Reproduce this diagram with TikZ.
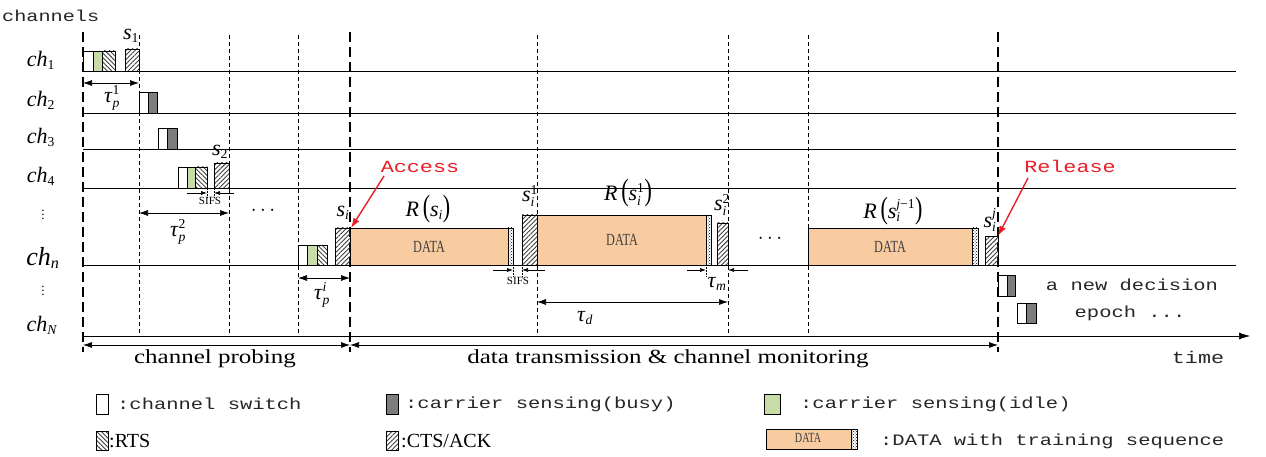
\documentclass[tikz,border=0pt]{standalone}
\usepackage{fontspec}
\setmainfont{Liberation Serif}
\newfontfamily\mono[FakeStretch=1.28]{Liberation Mono}
\newfontfamily\wideserif[FakeStretch=1.25]{Liberation Serif}
\newfontfamily\narrowserif[FakeStretch=0.72]{Liberation Serif}
\usetikzlibrary{arrows.meta,patterns,patterns.meta}
\definecolor{peach}{RGB}{248,203,160}
\definecolor{idlecol}{RGB}{200,220,168}
\definecolor{busycol}{RGB}{125,125,125}
\definecolor{accred}{RGB}{232,30,40}
\newcommand\fsz[1]{\fontsize{#1}{#1}\selectfont}
\newcommand\SB[2]{$\hbox{#1}_{\hbox{\scalebox{0.62}{#2}}}$}
\newcommand\SP[3]{$\hbox{#1}^{\hbox{\scalebox{0.62}{#3}}}_{\hbox{\scalebox{0.62}{#2}}}$}
\newcommand\Rp[1]{\textit{R}\,\scalebox{1}[1.4]{(}#1\scalebox{1}[1.4]{)}}
\begin{document}
\begin{tikzpicture}[x=1pt,y=-1pt,
  chline/.style={line width=0.7pt},
  tdash/.style={line width=0.7pt, dash pattern=on 4pt off 3pt},
  bdash/.style={line width=1.8pt, dash pattern=on 10pt off 5pt},
  blk/.style={draw, line width=0.7pt},
  swb/.style={blk, fill=white},
  busyb/.style={blk, fill=busycol},
  idleb/.style={blk, fill=idlecol},
  rtsb/.style={blk, pattern={Lines[angle=-45,distance=3.2pt,line width=0.9pt]}, pattern color=black!75},
  ctsb/.style={blk, pattern={Lines[angle=45,distance=3.2pt,line width=0.9pt]}, pattern color=black!75},
  datab/.style={blk, fill=peach},
  trainb/.style={blk, pattern=crosshatch dots, pattern color=black},
  dimarr/.style={{Latex[length=9pt,width=6pt]}-{Latex[length=9pt,width=6pt]}, line width=0.7pt},
  sdim/.style={-{Latex[length=6pt,width=4pt]}, line width=0.6pt},
  tick/.style={line width=0.5pt, densely dotted},
  lbl/.style={inner sep=0pt, font=\fsz{22}},
  vdt/.style={inner sep=0pt, font=\fsz{13}},
  mtxt/.style={inner sep=0pt, font=\mono\fsz{16}, text=black!85},
  btxt/.style={inner sep=0pt, font=\wideserif\fsz{20}},
  dtxt/.style={inner sep=0pt, font=\narrowserif\fsz{17}, text=black!75},
  stxt/.style={inner sep=0pt, font=\fsz{11}},
  redarr/.style={accred, line width=1.4pt, -{Latex[length=10pt,width=7pt]}},
  redtxt/.style={inner sep=0pt, font=\mono\fsz{17}, text=accred}
]
\useasboundingbox (0,0) rectangle (1266,457);

% vertical thin dashed lines
\foreach \x in {139,229,298,537,728,808} \draw[tdash] (\x,35) -- (\x,336);

% channel lines
\foreach \y in {71,113,149,188,265} \draw[chline] (83,\y) -- (1236,\y);

% time axis
\coordinate (ax0) at (83,336);
\coordinate (ax1) at (1250,336);
\draw[chline,-{Latex[length=11pt,width=7pt]}] (ax0) -- (ax1);

% big dashed lines
\draw[bdash] (83,32) -- (83,352);
\draw[bdash] (350,32) -- (350,352);
\draw[bdash] (998,32) -- (998,352);

% channel labels
\node[mtxt, anchor=west] (lch) at (2,16) {\resizebox{97pt}{!}{\mono\fsz{16}channels}};
\node[lbl] (c1) at (41,60) {\SB{\textit{ch}}{1}};
\node[lbl] (c2) at (41,100) {\SB{\textit{ch}}{2}};
\node[lbl] (c3) at (41,137) {\SB{\textit{ch}}{3}};
\node[lbl] (c4) at (41,176) {\SB{\textit{ch}}{4}};
\node[vdt] (cv1) at (43,212) {$\vdots$};
\node[lbl, font=\fsz{26}] (cn) at (43,258) {\SB{\textit{ch}}{\textit{n}}};
\node[vdt] (cv2) at (43,288) {$\vdots$};
\node[lbl] (cN) at (42,325) {\SB{\textit{ch}}{\textit{N}}};

% ch1
\draw[swb] (83,51) rectangle (93,71);
\draw[idleb] (93,51) rectangle (102,71);
\draw[rtsb] (102,51) rectangle (115,71);
\draw[ctsb] (125,49) rectangle (139,71);
% ch2
\draw[swb] (139,92) rectangle (148,113);
\draw[busyb] (148,92) rectangle (157,113);
% ch3
\draw[swb] (158,128) rectangle (167,149);
\draw[busyb] (167,128) rectangle (177,149);
% ch4
\draw[swb] (178,167) rectangle (187,188);
\draw[idleb] (187,167) rectangle (195,188);
\draw[rtsb] (195,167) rectangle (207,188);
\draw[ctsb] (214,163) rectangle (229,188);
% chn probing
\draw[swb] (298,245) rectangle (307,265);
\draw[idleb] (307,245) rectangle (317,265);
\draw[rtsb] (317,245) rectangle (327,265);
\draw[ctsb] (335,228) rectangle (350,265);
% data transmission
\draw[datab] (350,228) rectangle (508,265);
\draw[trainb] (508,228) rectangle (513,265);
\draw[ctsb] (522,215) rectangle (537,265);
\draw[datab] (537,215) rectangle (706,265);
\draw[trainb] (706,215) rectangle (711,265);
\draw[ctsb] (717,223) rectangle (728,265);
\draw[datab] (808,228) rectangle (972,265);
\draw[trainb] (972,228) rectangle (978,265);
\draw[ctsb] (985,236) rectangle (998,265);
% new epoch
\draw[swb] (998,275) rectangle (1007,296);
\draw[busyb] (1007,275) rectangle (1015,296);
\draw[swb] (1017,303) rectangle (1026,323);
\draw[busyb] (1026,303) rectangle (1036,323);

\node[dtxt] (d1) at (429,247) {DATA};
\node[dtxt] (d2) at (622,240) {DATA};
\node[dtxt] (d3) at (890,247) {DATA};

% dimension arrows
\coordinate (t1a) at (83,83); \coordinate (t1b) at (139,83);
\draw[dimarr] (t1a) -- (t1b);
\coordinate (t2a) at (139,213); \coordinate (t2b) at (229,213);
\draw[dimarr] (t2a) -- (t2b);
\coordinate (tia) at (298,278); \coordinate (tib) at (350,278);
\draw[dimarr] (tia) -- (tib);
\coordinate (tda) at (537,302); \coordinate (tdb) at (728,302);
\draw[dimarr] (tda) -- (tdb);

% SIFS 1
\coordinate (s1a) at (187,193); \coordinate (s1b) at (207,193);
\coordinate (s1c) at (234,193); \coordinate (s1d) at (214,193);
\draw[sdim] (s1a) -- (s1b); \draw[sdim] (s1c) -- (s1d);
\draw[tick] (207,188) -- (207,198); \draw[tick] (214,188) -- (214,198);
\node[stxt] (sifs1) at (210,201) {SIFS};
% SIFS 2
\coordinate (s2a) at (493,270); \coordinate (s2b) at (513,270);
\coordinate (s2c) at (545,270); \coordinate (s2d) at (522,270);
\draw[sdim] (s2a) -- (s2b); \draw[sdim] (s2c) -- (s2d);
\draw[tick] (513,265) -- (513,276); \draw[tick] (522,265) -- (522,276);
\node[stxt] (sifs2) at (518,281) {SIFS};
% tau m
\coordinate (tma) at (687,270); \coordinate (tmb) at (706,270);
\coordinate (tmc) at (748,270); \coordinate (tmd) at (728,270);
\draw[sdim] (tma) -- (tmb); \draw[sdim] (tmc) -- (tmd);
\draw[tick] (706,265) -- (706,276);

% bottom phase arrows
\coordinate (b0) at (83,345); \coordinate (b1) at (350,345); \coordinate (b2) at (998,345);
\draw[dimarr] (b0) -- (b1);
\draw[dimarr] (b1) -- (b2);
\node[btxt] (cp) at (215,359) {channel probing};
\node[btxt] (dt) at (668,359) {data transmission \& channel monitoring};
\node[mtxt, font=\mono\fsz{17}] (tm) at (1198,357) {time};

% math labels
\node[lbl] (ls1) at (131,36) {\SB{\textit{s}}{1}};
\node[lbl] (lt1) at (112,98) {\SP{\textit{τ}}{\textit{p}}{1}};
\node[lbl] (ls2) at (220,152) {\SB{\textit{s}}{2}};
\node[lbl] (lt2) at (178,232) {\SP{\textit{τ}}{\textit{p}}{2}};
\node[lbl] (dots1) at (263,211) {$\cdots$};
\node[lbl] (lsi) at (343,213) {\SB{\textit{s}}{\textit{i}}};
\node[lbl] (lti) at (322,295) {\SP{\textit{τ}}{\textit{p}}{\textit{i}}};
\node[lbl] (lr1) at (428,209) {\Rp{\SB{\textit{s}}{\textit{i}}}};
\node[lbl] (lsi1) at (530,196) {\SP{\textit{s}}{\textit{i}}{1}};
\node[lbl] (lr2) at (628,193) {\Rp{\SP{\textit{s}}{\textit{i}}{1}}};
\node[lbl] (lsi2) at (722,205) {\SP{\textit{s}}{\textit{i}}{2}};
\node[lbl] (ltm) at (717,284) {\SB{\textit{τ}}{\textit{m}}};
\node[lbl] (dots2) at (770,239) {$\cdots$};
\node[lbl] (ltd) at (585,318) {\SB{\textit{τ}}{\textit{d}}};
\node[lbl] (lr3) at (893,211) {\Rp{\SP{\textit{s}}{\textit{i}}{\textit{j}−1}}};
\node[lbl] (lsij) at (990,220) {\SP{\textit{s}}{\textit{i}}{\textit{j}}};

% access / release
\node[redtxt] (acc) at (420,167) {Access};
\node[redtxt] (rel) at (1070,166) {Release};
\coordinate (accend) at (351,228);
\coordinate (relend) at (998,236);
\draw[redarr] (384,176) -- (accend);
\draw[redarr] (1028,178) -- (relend);

% new epoch text
\node[mtxt] (ne1) at (1132,285) {a new decision};
\node[mtxt] (ne2) at (1130,313) {epoch ...};

% legend
\draw[swb] (96,394) rectangle (108,414);
\node[mtxt, anchor=west] (lg1) at (117,404) {:channel switch};
\draw[busyb] (386,394) rectangle (398,414);
\node[mtxt, anchor=west] (lg2) at (405,404) {:carrier sensing(busy)};
\draw[idleb] (764,394) rectangle (780,414);
\node[mtxt, anchor=west] (lg3) at (800,404) {:carrier sensing(idle)};
\draw[rtsb] (96,431) rectangle (108,450);
\node[inner sep=0pt, font=\fsz{20}, anchor=west] (lg4) at (109,441) {:RTS};
\draw[ctsb] (386,431) rectangle (398,450);
\node[inner sep=0pt, font=\fsz{20}, anchor=west] (lg5) at (401,441) {:CTS/ACK};
\draw[datab] (766,429) rectangle (851,449);
\draw[trainb] (851,429) rectangle (857,449);
\node[dtxt, font=\narrowserif\fsz{14}] (lgd) at (808,438) {DATA};
\node[mtxt, anchor=west] (lg6) at (880,441) {:DATA with training sequence};
\end{tikzpicture}
\end{document}
